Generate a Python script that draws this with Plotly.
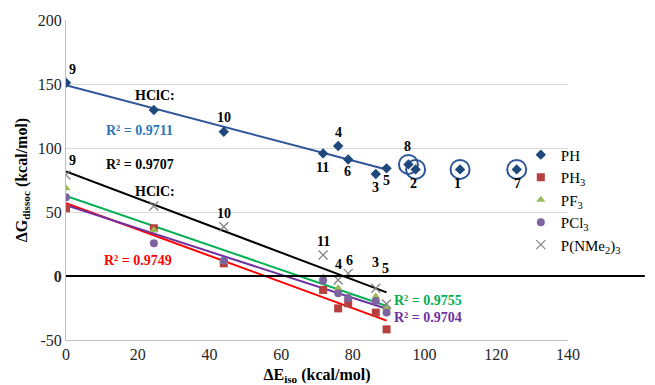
import numpy as np
import plotly.graph_objects as go

# ---- data ----
x_vals = [0, 24.5, 44, 71.7, 75.9, 78.7, 86.4, 89.4]          # 9, HClC, 10, 11, 4, 6, 3, 5
ph_y = [151, 129.7, 112.7, 95.8, 101.6, 91, 79.7, 84.1]
ph_extra_x = [95.5, 97.5, 109.9, 125.7]                          # 8, 2, 1, 7
ph_extra_y = [87.2, 83.3, 83.3, 83.3]
ph3_y = [52.9, 37.3, 9.9, -10.9, -25.3, -21.3, -28.6, -41.7]
pf3_y = [68.5, 36, 11, -1, -9.6, -16, -16.1, -25]
pcl3_y = [61.5, 25.5, 12, -3.6, -13.5, -17.4, -19.5, -28.6]
nme_y = [78.9, 54.7, 38.5, 16.4, -3.1, 2.1, -9.6, -21.9]

series_names = ["PH", "PH<sub>3</sub>", "PF<sub>3</sub>", "PCl<sub>3</sub>", "P(NMe<sub>2</sub>)<sub>3</sub>"]
r2_labels = ["R² = 0.9711", "R² = 0.9749", "R² = 0.9755", "R² = 0.9704", "R² = 0.9707"]

SERIF = "Liberation Serif, Times New Roman, serif"

fig = go.Figure()

# trendlines (linear fits)
trend_colors = ["#2F5597", "#FF0000", "#00B050", "#7030A0", "#000000"]
all_y = [ph_y, ph3_y, pf3_y, pcl3_y, nme_y]
xa = np.array(x_vals)
for ys, col in zip(all_y, trend_colors):
    m, b = np.polyfit(xa, np.array(ys), 1)
    xs = np.array([xa.min(), xa.max()])
    fig.add_trace(go.Scatter(x=xs, y=m * xs + b, mode="lines",
                             line=dict(color=col, width=2), showlegend=False,
                             hoverinfo="skip"))

# rings around outlying PH points
fig.add_trace(go.Scatter(x=ph_extra_x, y=ph_extra_y, mode="markers",
                         marker=dict(symbol="circle-open", size=19, color="#2F5597",
                                     line=dict(color="#2F5597", width=2)),
                         showlegend=False, hoverinfo="skip"))

marker_styles = [
    dict(symbol="diamond", size=8, color="#1F497D"),
    dict(symbol="square", size=8, color="#B5403D"),
    dict(symbol="triangle-up", size=8, color="#9BBB59"),
    dict(symbol="circle", size=8, color="#7D64A0"),
    dict(symbol="x-thin-open", size=9, color="#7F7F7F", line=dict(color="#7F7F7F", width=1.2)),
]
for i in range(5):
    xs = x_vals + (ph_extra_x if i == 0 else [])
    ys = all_y[i] + (ph_extra_y if i == 0 else [])
    fig.add_trace(go.Scatter(x=xs, y=ys, mode="markers", name=series_names[i],
                             marker=marker_styles[i]))

# zero line extending past the plot
fig.add_shape(type="line", xref="paper", yref="y", x0=0, x1=1.153, y0=0, y1=0,
              line=dict(color="black", width=2))

def lab(x, y, t, color="black", size=14):
    fig.add_annotation(x=x, y=y, text="<b>" + t + "</b>", showarrow=False,
                       font=dict(family=SERIF, size=size, color=color))

# point labels
for x, y, t in [(1.7, 161.7, "9"), (24.8, 141.4, "HClC:"), (44.1, 124.2, "10"),
                (1.7, 90.6, "9"), (24.8, 66.4, "HClC:"), (44.1, 49.2, "10"),
                (71.4, 84.4, "11"), (75.9, 112.5, "4"), (78.6, 81.3, "6"),
                (86.2, 69.5, "3"), (89.5, 75.0, "5"), (95.1, 100.8, "8"),
                (96.8, 71.9, "2"), (109.3, 71.9, "1"), (125.8, 71.9, "7"),
                (71.9, 26.6, "11"), (75.9, 8.6, "4"), (79.2, 12.5, "6"),
                (86.2, 10.9, "3"), (89.2, 6.25, "5")]:
    lab(x, y, t)

lab(20.6, 113.3, r2_labels[0], "#2E75B6")
lab(20.1, 12.5, r2_labels[1], "#FF0000")
lab(100.9, -19.5, r2_labels[2], "#00B050")
lab(100.9, -32.8, r2_labels[3], "#7030A0")
lab(20.6, 87.5, r2_labels[4], "#000000")

fig.update_layout(
    width=647, height=377,
    margin=dict(l=58, r=87, t=12, b=45, autoexpand=False),
    plot_bgcolor="white", paper_bgcolor="white",
    font=dict(family=SERIF, size=16, color="#262626"),
    showlegend=True,
    legend=dict(x=0.906, y=0.63, xanchor="left", yanchor="top",
                font=dict(family=SERIF, size=15, color="black"),
                itemwidth=30, tracegroupgap=0, bgcolor="rgba(0,0,0,0)"),
)
fig.update_xaxes(range=[0, 140], dtick=20, showgrid=False, zeroline=False,
                 showline=True, linecolor="#BFBFBF", linewidth=1, automargin=False,
                 ticks="", tickfont=dict(family=SERIF, size=16, color="#262626"),
                 title=dict(text="<b>ΔE<sub>iso</sub> (kcal/mol)</b>", standoff=6,
                            font=dict(family=SERIF, size=16, color="black")))
fig.update_yaxes(range=[-50, 200], tickvals=[-50, 0, 50, 100, 150, 200],
                 ticktext=["-50", "<b>0</b>", "50", "100", "150", "200"],
                 showgrid=True, gridcolor="#D9D9D9", gridwidth=1, zeroline=False,
                 showline=True, linecolor="#BFBFBF", linewidth=1, ticks="", automargin=False,
                 tickfont=dict(family=SERIF, size=16, color="#262626"),
                 title=dict(text="<b>ΔG<sub>dissoc</sub> (kcal/mol)</b>", standoff=6,
                            font=dict(family=SERIF, size=16, color="black")))

fig.write_html("out.html")
